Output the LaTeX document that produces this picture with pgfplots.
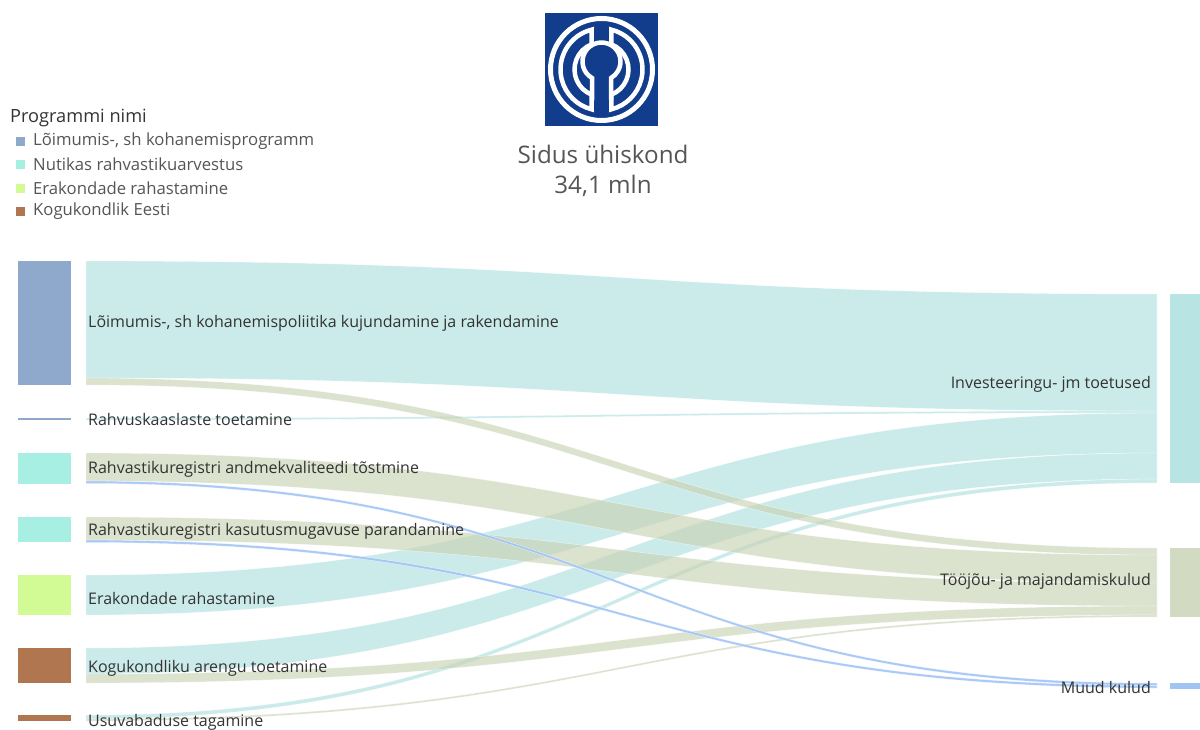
\documentclass[border=0pt]{standalone}
\usepackage{fontspec}
\setmainfont{Open Sans}
\usepackage{pgfplots}
\pgfplotsset{compat=1.18}

\definecolor{txt}{RGB}{51,51,51}
\definecolor{legtxt}{RGB}{85,85,85}
\definecolor{invflow}{RGB}{175,224,224}
\definecolor{tooflow}{RGB}{200,210,180}
\definecolor{muudflow}{RGB}{160,196,245}
\definecolor{invnode}{RGB}{184,228,228}
\definecolor{toonode}{RGB}{211,218,194}
\definecolor{muudnode}{RGB}{162,196,243}
\definecolor{loim}{RGB}{142,169,204}
\definecolor{nutikas}{RGB}{168,239,227}
\definecolor{erak}{RGB}{210,251,150}
\definecolor{kogu}{RGB}{176,118,80}
\definecolor{logoblue}{RGB}{18,60,140}

% ribbon: left top, left bottom, right top, right bottom, colour, opacity
\newcommand{\flow}[6]{%
  \fill[#5, fill opacity=#6, draw=white, draw opacity=0.8, line width=0.3bp]
    (86,#1) .. controls (621,#1) and (621,#3) .. (1157,#3) -- (1157,#4)
    .. controls (621,#4) and (621,#2) .. (86,#2) -- cycle;}
\newcommand{\fs}[1]{\fontsize{#1bp}{#1bp}\selectfont}

\begin{document}
\begin{tikzpicture}
\begin{axis}[
  scale only axis,
  width=1200bp, height=729bp,
  xmin=0, xmax=1200, ymin=0, ymax=729,
  y dir=reverse,
  hide axis,
  clip=false,
]
% flows to Investeeringu- jm toetused
\flow{261}{378}{294}{411}{invflow}{0.65}
\flow{418}{420}{411}{413}{invflow}{0.65}
\flow{575}{615}{413}{453}{invflow}{0.65}
\flow{648}{674}{453}{479}{invflow}{0.65}
\flow{715}{719}{479}{483}{invflow}{0.65}
% flows to Tööjõu- ja majandamiskulud
\flow{378}{385}{548}{555}{tooflow}{0.65}
\flow{453}{481}{555}{583}{tooflow}{0.65}
\flow{517}{540}{583}{606}{tooflow}{0.65}
\flow{674}{683}{606}{615}{tooflow}{0.65}
\flow{719}{721}{615}{617}{tooflow}{0.65}
% flows to Muud kulud
\flow{481}{483.5}{683}{685.5}{muudflow}{0.9}
\flow{540}{542.5}{685.5}{688}{muudflow}{0.9}

% left nodes
\fill[loim] (18,261) rectangle (71,385);
\fill[loim] (18,418) rectangle (71,420);
\fill[nutikas] (18,453) rectangle (71,484);
\fill[nutikas] (18,517) rectangle (71,542);
\fill[erak] (18,575) rectangle (71,615);
\fill[kogu] (18,648) rectangle (71,683);
\fill[kogu] (18,715) rectangle (71,721);
% right nodes
\fill[invnode] (1170,294) rectangle (1200,483);
\fill[toonode] (1170,548) rectangle (1200,617);
\fill[muudnode] (1170,683) rectangle (1200,689);

% labels
\begin{scope}[every node/.style={text=txt, font=\fs{16}, inner sep=0pt}]
\node[anchor=west] at (88,323) {Lõimumis-, sh kohanemispoliitika kujundamine ja rakendamine};
\node[anchor=west] at (88,419) {Rahvuskaaslaste toetamine};
\node[anchor=west] at (88,469) {Rahvastikuregistri andmekvaliteedi tõstmine};
\node[anchor=west] at (88,531) {Rahvastikuregistri kasutusmugavuse parandamine};
\node[anchor=west] at (88,598) {Erakondade rahastamine};
\node[anchor=west] at (88,668) {Kogukondliku arengu toetamine};
\node[anchor=west] at (88,722) {Usuvabaduse tagamine};
\node[anchor=east] at (1151,384) {Investeeringu- jm toetused};
\node[anchor=east] at (1151,581) {Tööjõu- ja majandamiskulud};
\node[anchor=east] at (1151,687) {Muud kulud};
\end{scope}

% legend
\node[anchor=west, text=txt, font=\fs{18.2}, inner sep=0pt] at (10,118) {Programmi nimi};
\begin{scope}[every node/.style={anchor=west, text=legtxt, font=\fs{16.7}, inner sep=0pt}]
\fill[loim] (16,137) rectangle (25,146);
\node at (33,141.5) {Lõimumis-, sh kohanemisprogramm};
\fill[nutikas] (16,160) rectangle (25,169);
\node at (33,164.5) {Nutikas rahvastikuarvestus};
\fill[erak] (16,184) rectangle (25,193);
\node at (33,188.5) {Erakondade rahastamine};
\fill[kogu] (16,207) rectangle (25,216);
\node at (33,211.5) {Kogukondlik Eesti};
\end{scope}

% title
\node[text=legtxt, font=\fs{24.2}, inner sep=0pt] at (603,154) {Sidus ühiskond};
\node[text=legtxt, font=\fs{24.2}, inner sep=0pt] at (603,186) {34,1 mln};

\coordinate (logoC) at (601.5,69.5);
\coordinate (SW) at (0,729);
\coordinate (NE) at (1200,0);
\end{axis}

% logo
\begin{scope}[shift={(logoC)}, x=1bp, y=1bp]
\fill[logoblue] (-56.5,-56.5) rectangle (56.5,56.5);
\draw[white, line width=5bp] (0,0) circle (51);
\draw[white, line width=4.5bp, fill=logoblue]
  (103.8:41) arc (103.8:256.2:41) -- (248.3:27) arc (248.3:111.7:27) -- cycle;
\draw[white, line width=4.5bp, fill=logoblue]
  (76.2:41) arc (76.2:-76.2:41) -- (-68.3:27) arc (-68.3:68.3:27) -- cycle;
\draw[white, line width=4.5bp] (-9.5,-31) -- (-9.5,-8.5)
  arc (240:-60:19) -- (9.5,-31);
\end{scope}

\pgfresetboundingbox
\useasboundingbox (SW) rectangle (NE);
\end{tikzpicture}
\end{document}
